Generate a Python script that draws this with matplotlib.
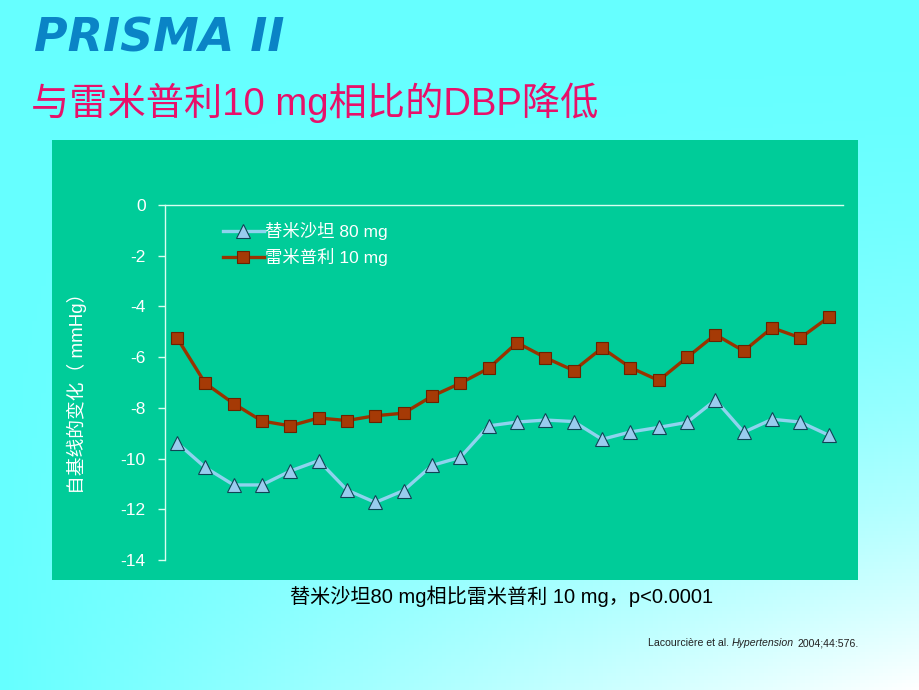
import numpy as np
import matplotlib
matplotlib.use('Agg')
from matplotlib import pyplot as plt
from matplotlib.patches import Rectangle

plt.rcParams['font.family'] = ['Liberation Sans', 'Noto Sans CJK SC', 'DejaVu Sans']

# data
visit = np.arange(1, 25)
telmisartan = [-9.37, -10.35, -11.04, -11.04, -10.49, -10.08, -11.24, -11.73,
               -11.26, -10.27, -9.95, -8.71, -8.56, -8.48, -8.54, -9.24,
               -8.95, -8.77, -8.57, -7.69, -8.96, -8.45, -8.56, -9.08]
ramipril = [-5.23, -7.03, -7.83, -8.52, -8.71, -8.40, -8.50, -8.31,
            -8.21, -7.54, -7.03, -6.44, -5.43, -6.02, -6.53, -5.64,
            -6.41, -6.92, -6.01, -5.11, -5.76, -4.84, -5.24, -4.42]
yticks = [0, -2, -4, -6, -8, -10, -12, -14]
labels = ['替米沙坦 80 mg', '雷米普利 10 mg']

W, H = 920, 690
fig = plt.figure(figsize=(9.2, 6.9), dpi=100)

# slide background: cyan fading to white toward the lower right
bg = fig.add_axes([0, 0, 1, 1], zorder=-10)
xx, yy = np.meshgrid(np.linspace(0, 1, 200), np.linspace(0, 1, 200))
t = np.clip(xx * yy ** 2.2, 0, 1)
c0 = np.array([0x66, 0xFF, 0xFF]) / 255.
c1 = np.array([1.0, 1.0, 1.0])
img = c0[None, None, :] * (1 - t[..., None]) + c1[None, None, :] * t[..., None]
bg.imshow(img, extent=[0, 1, 1, 0], aspect='auto')
bg.set_xlim(0, 1)
bg.set_ylim(1, 0)
bg.axis('off')

green = '#00CC99'
fig.patches.append(Rectangle((52 / W, 1 - 580 / H), (858 - 52) / W, (580 - 140) / H,
                             transform=fig.transFigure, facecolor=green,
                             edgecolor='none', zorder=-5))

ax = fig.add_axes([165 / W, 1 - 560 / H, (843 - 165) / W, (560 - 205) / H])
ax.set_facecolor('none')
ax.plot(visit, telmisartan, color='#8FD3EE', lw=2.4, marker='^', ms=10,
        mfc='#99CCEE', mec='#114455', mew=0.8, label=labels[0], zorder=3)
ax.plot(visit, ramipril, color='#993300', lw=2.4, marker='s', ms=8.5,
        mfc='#A53A06', mec='#6B2200', mew=0.8, label=labels[1], zorder=3)

ax.set_xlim(0.58, 24.5)
ax.set_ylim(-14, 0)
ax.set_yticks(yticks)
ax.set_yticklabels([str(v) for v in yticks])
ax.set_xticks([])
for s in ['right', 'bottom']:
    ax.spines[s].set_visible(False)
ax.spines['left'].set_color('#D8FFF0')
ax.spines['top'].set_color('#D8FFF0')
ax.spines['left'].set_linewidth(1)
ax.spines['top'].set_linewidth(1)
ax.tick_params(axis='y', colors='#D8FFF0', labelcolor='white', labelsize=12.5,
               length=5, width=1, pad=9)

leg = ax.legend(loc='upper left', bbox_to_anchor=(0.062, 0.995), frameon=False,
                fontsize=12.5, handlelength=2.4, labelspacing=0.45,
                handletextpad=0.05)
for txt in leg.get_texts():
    txt.set_color('white')

fig.text(77 / W, 1 - 389 / H, '自基线的变化（ mmHg）', rotation=90, color='white',
         fontsize=13.5, ha='center', va='center')

# headings
fig.text(34 / W, 1 - 39 / H, 'PRISMA II', color='#0A84C6', fontsize=33,
         fontweight='bold', fontstyle='italic', ha='left', va='center',
         family=['DejaVu Sans'])
fig.text(31 / W, 1 - 103 / H, '与雷米普利10 mg相比的DBP降低', color='#E8106A',
         fontsize=27.5, ha='left', va='center')

fig.text(502 / W, 1 - 596 / H, '替米沙坦80 mg相比雷米普利 10 mg，p<0.0001',
         color='black', fontsize=14.5, ha='center', va='center')

t1 = fig.text(648 / W, 1 - 643 / H, 'Lacourcière et al. ', fontsize=7.6,
              color='#222222', ha='left', va='center')
t2 = fig.text(0, 0, 'Hypertension', fontsize=7.6, color='#222222', style='italic',
              ha='left', va='bottom', transform=None)
fig.canvas.draw()
bb = t1.get_window_extent()
t2.set_position((bb.x1, bb.y0))
fig.canvas.draw()
bb2 = t2.get_window_extent()
fig.text(bb2.x1 + 3, bb.y0, '2004;44:576.', fontsize=7.6, color='#222222',
         ha='left', va='bottom', transform=None)

fig.savefig('out.png', dpi=100)
